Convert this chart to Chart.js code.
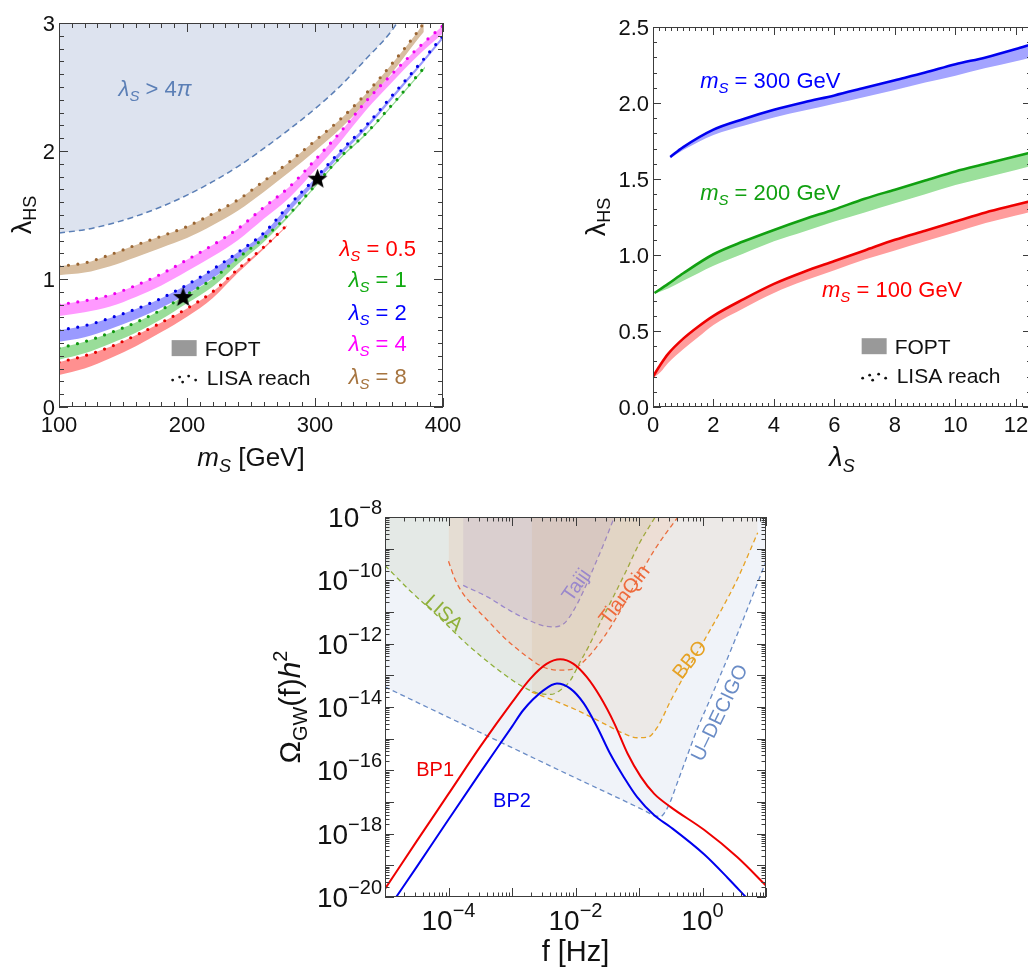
<!DOCTYPE html>
<html>
<head>
<meta charset="utf-8">
<script src="https://cdn.jsdelivr.net/npm/chart.js@4.4.0/dist/chart.umd.min.js"></script>
<style>
  html, body { margin: 0; padding: 0; background: #fff; overflow: hidden; width: 1028px; height: 972px; }
  canvas { position: absolute; }
  #scanMass { left: 0; top: 0; }
  #scanSelf { left: 560px; top: 0; }
  #spectrum { left: 250px; top: 490px; }
</style>
</head>
<body>
<canvas id="scanMass" width="500" height="490"></canvas>
<canvas id="scanSelf" width="500" height="490"></canvas>
<canvas id="spectrum" width="560" height="482"></canvas>
<script>
// ---------- Panel (a): lambda_HS versus m_S ----------
const massTicks = [100, 200, 300, 400];
const couplingTicksA = [0, 1, 2, 3];

const boundMass = [100, 120, 140, 160, 180, 200, 220, 240, 260, 280, 300, 320, 340, 360, 364];
const boundCoupling = [1.36, 1.385, 1.43, 1.49, 1.565, 1.655, 1.76, 1.88, 2.02, 2.17, 2.33, 2.51, 2.72, 2.94, 3.0];

const massLam05 = [100, 120, 140, 160, 180, 200, 220, 240, 260, 278];
const upperLam05 = [0.35, 0.40, 0.47, 0.56, 0.66, 0.77, 0.90, 1.08, 1.25, 1.42];
const lowerLam05 = [0.25, 0.30, 0.38, 0.475, 0.585, 0.705, 0.85, 1.05, 1.235, 1.41];

const massLam1 = [100, 120, 140, 160, 180, 200, 220, 240, 260, 280, 300, 320, 340, 360, 380, 386];
const upperLam1 = [0.46, 0.51, 0.58, 0.66, 0.76, 0.88, 1.00, 1.165, 1.32, 1.51, 1.73, 1.955, 2.14, 2.36, 2.59, 2.66];
const lowerLam1 = [0.37, 0.42, 0.495, 0.58, 0.685, 0.81, 0.94, 1.12, 1.29, 1.49, 1.715, 1.94, 2.125, 2.345, 2.575, 2.645];

const massLam2 = [100, 120, 140, 160, 180, 200, 220, 240, 260, 280, 300, 320, 340, 360, 380, 400];
const upperLam2 = [0.60, 0.635, 0.695, 0.765, 0.85, 0.955, 1.075, 1.21, 1.36, 1.58, 1.785, 2.0, 2.2, 2.43, 2.66, 2.90];
const lowerLam2 = [0.51, 0.545, 0.61, 0.685, 0.775, 0.88, 1.005, 1.145, 1.30, 1.53, 1.745, 1.965, 2.17, 2.40, 2.635, 2.875];

const massLam4 = [100, 120, 140, 160, 180, 200, 220, 240, 260, 280, 300, 320, 340, 360, 380, 400];
const upperLam4 = [0.80, 0.83, 0.875, 0.95, 1.04, 1.15, 1.265, 1.395, 1.56, 1.72, 1.93, 2.15, 2.39, 2.60, 2.80, 2.98];
const lowerLam4 = [0.71, 0.74, 0.785, 0.86, 0.95, 1.06, 1.175, 1.305, 1.47, 1.635, 1.85, 2.075, 2.32, 2.535, 2.74, 2.92];

const massLam8 = [100, 120, 140, 160, 180, 200, 220, 240, 260, 280, 300, 320, 340, 360, 380, 385];
const upperLam8 = [1.10, 1.125, 1.19, 1.265, 1.335, 1.41, 1.51, 1.62, 1.765, 1.915, 2.08, 2.25, 2.45, 2.68, 2.93, 3.0];
const lowerLam8 = [1.03, 1.05, 1.10, 1.17, 1.245, 1.32, 1.42, 1.535, 1.68, 1.835, 2.0, 2.175, 2.38, 2.61, 2.87, 2.93];

const benchMass = [197, 302];
const benchCoupling = [0.855, 1.78];

// ---------- Panel (b): lambda_HS versus lambda_S ----------
const selfTicks = [0, 2, 4, 6, 8, 10, 12];
const couplingTicksB = [0, 0.5, 1.0, 1.5, 2.0, 2.5];

const lamS100 = [0, 0.25, 0.5, 1, 1.5, 2, 3, 4, 5, 6, 7, 8, 9, 10, 11, 12, 12.5];
const upper100 = [0.20, 0.28, 0.35, 0.45, 0.53, 0.60, 0.71, 0.81, 0.89, 0.96, 1.03, 1.10, 1.16, 1.22, 1.28, 1.33, 1.355];
const lower100 = [0.19, 0.23, 0.29, 0.38, 0.46, 0.54, 0.65, 0.75, 0.83, 0.90, 0.97, 1.03, 1.09, 1.15, 1.21, 1.26, 1.285];

const lamS200 = [0.05, 0.5, 1, 2, 3, 4, 5, 6, 7, 8, 9, 10, 11, 12, 12.5];
const upper200 = [0.75, 0.81, 0.88, 1.005, 1.09, 1.165, 1.235, 1.30, 1.37, 1.43, 1.49, 1.55, 1.60, 1.65, 1.675];
const lower200 = [0.745, 0.78, 0.83, 0.93, 1.01, 1.09, 1.155, 1.22, 1.28, 1.34, 1.40, 1.46, 1.51, 1.56, 1.585];

const lamS300 = [0.57, 1, 2, 3, 4, 5, 6, 7, 8, 9, 10, 11, 12, 12.5];
const upper300 = [1.645, 1.71, 1.825, 1.895, 1.955, 2.005, 2.05, 2.10, 2.15, 2.20, 2.255, 2.30, 2.355, 2.385];
const lower300 = [1.635, 1.69, 1.79, 1.85, 1.905, 1.95, 1.995, 2.04, 2.085, 2.135, 2.18, 2.23, 2.275, 2.30];

// ---------- Panel (c): gravitational-wave spectra and detector reach ----------
const freqTickExps = [-4, -2, 0];
const omegaTickExps = [-8, -10, -12, -14, -16, -18, -20];

const bp1Freq = [1e-5, 3.16e-5, 1e-4, 3.16e-4, 1e-3, 1.95e-3, 3.5e-3, 5.75e-3, 9.3e-3, 1.5e-2, 2.45e-2, 4.1e-2, 6.6e-2, 0.107, 0.174, 0.316, 1.07, 3.55, 10];
const bp1Omega = [1.8e-20, 5.8e-19, 1.8e-17, 5.6e-16, 1.4e-14, 7.9e-14, 2.3e-13, 3.2e-13, 2.3e-13, 8.9e-14, 2.1e-14, 3.0e-15, 3.4e-16, 6.2e-17, 1.8e-17, 6.9e-18, 1.3e-18, 1.8e-19, 2.3e-20];

const bp2Freq = [1.5e-5, 3.16e-5, 1e-4, 3.16e-4, 1e-3, 1.5e-3, 3.16e-3, 5.1e-3, 8.3e-3, 1.35e-2, 2.2e-2, 3.5e-2, 5.75e-2, 9.3e-2, 0.174, 0.316, 1.07, 2.5, 4.8];
const bp2Omega = [1e-20, 8.9e-20, 2.8e-18, 8.5e-17, 2.4e-15, 7.9e-15, 3.4e-14, 5.5e-14, 3.8e-14, 1.3e-14, 2.3e-15, 3.4e-16, 6.2e-17, 1.45e-17, 3.8e-18, 1.6e-18, 2.2e-19, 4e-20, 1e-20];

const lisaFreq = [1e-5, 2.45e-5, 6.6e-5, 2.2e-4, 7.4e-4, 1.5e-3, 2.45e-3, 4.1e-3, 5.75e-3, 8.3e-3, 1.2e-2, 1.6e-2, 2.5e-2, 4e-2, 6.3e-2, 0.1, 0.18];
const lisaOmega = [2.95e-10, 4.8e-11, 7.8e-12, 7.8e-13, 1.1e-13, 4.3e-14, 2.8e-14, 2.5e-14, 3.4e-14, 6.9e-14, 2.8e-13, 7.9e-13, 5e-12, 3.2e-11, 2e-10, 1.4e-9, 1e-8];

const tianqinFreq = [1e-4, 1.26e-4, 1.66e-4, 2.2e-4, 4.1e-4, 7.4e-4, 1.5e-3, 3.16e-3, 5.75e-3, 9.3e-3, 1.5e-2, 2.8e-2, 5.1e-2, 9.3e-2, 0.174, 0.41];
const tianqinOmega = [4e-10, 1.1e-10, 4e-11, 2e-11, 5.5e-12, 1.6e-12, 4.8e-13, 1.8e-13, 1.45e-13, 1.6e-13, 3.4e-13, 1.6e-12, 1.1e-11, 1e-10, 8.9e-10, 1e-8];

const taijiFreq = [1.7e-4, 4.1e-4, 9.3e-4, 1.95e-3, 3.5e-3, 4.6e-3, 6.6e-3, 9.3e-3, 1.35e-2, 1.95e-2, 2.8e-2, 4.1e-2];
const taijiOmega = [6.9e-11, 3e-11, 1.1e-11, 5.2e-12, 3.5e-12, 3.4e-12, 4.3e-12, 1.1e-11, 4.8e-11, 2.6e-10, 1.45e-9, 1e-8];

const bboFreq = [2.05e-3, 4.6e-3, 1.07e-2, 2.8e-2, 5.75e-2, 9.3e-2, 0.135, 0.195, 0.316, 0.575, 1.07, 1.95, 3.55, 7.4];
const bboOmega = [2.95e-14, 1.6e-14, 7.8e-15, 3e-15, 1.45e-15, 1.07e-15, 1.1e-15, 2.3e-15, 1.6e-14, 1.45e-13, 1.3e-12, 1.1e-11, 1.1e-10, 3.2e-9];

const decigoFreq = [1e-5, 1e-4, 1e-3, 1e-2, 0.1, 0.135, 0.174, 0.22, 0.26, 0.316, 0.4, 0.56, 0.79, 1.5, 2.8, 5.1, 10];
const decigoOmega = [4.3e-14, 4.7e-15, 5.2e-16, 5.75e-17, 6.5e-18, 4.8e-18, 3.7e-18, 3.5e-18, 5e-18, 1.1e-17, 4e-17, 2.5e-16, 1.6e-15, 3.2e-14, 6.3e-13, 1.26e-11, 4e-10];

// ---------- helpers ----------
const FAMILY = '"Liberation Sans", Arial, sans-serif';
const font = (size, italic) => `${italic ? 'italic ' : ''}${size}px ${FAMILY}`;
const pts = (xs, ys) => xs.map((x, i) => ({ x, y: ys[i] }));
// draw datasets in array order (first one at the bottom, last one on top)
const stacked = list => list.map((d, i) => Object.assign(d, { order: list.length - i }));

function richWidth(ctx, parts) {
  let w = 0;
  for (const p of parts) { ctx.font = font(p.size, p.it); w += ctx.measureText(p.t).width; }
  return w;
}
function drawRich(ctx, parts, x, y, align, color) {
  const w = richWidth(ctx, parts);
  let cx = align === 'center' ? x - w / 2 : align === 'right' ? x - w : x;
  ctx.save();
  ctx.textAlign = 'left';
  ctx.textBaseline = 'alphabetic';
  ctx.fillStyle = color || '#111';
  for (const p of parts) {
    ctx.font = font(p.size, p.it);
    ctx.fillText(p.t, cx, y + (p.dy || 0));
    cx += ctx.measureText(p.t).width;
  }
  ctx.restore();
}
function drawRichRotated(ctx, parts, x, y, angleDeg, color) {
  ctx.save();
  ctx.translate(x, y);
  ctx.rotate(angleDeg * Math.PI / 180);
  drawRich(ctx, parts, 0, 0, 'center', color);
  ctx.restore();
}
function range(a, b, step) {
  const out = [];
  const n = Math.round((b - a) / step);
  for (let i = 0; i <= n; i++) out.push(+(a + i * step).toFixed(6));
  return out;
}
function logMinor(e0, e1) {
  const out = [];
  for (let e = e0; e < e1; e++) for (let m = 2; m <= 9; m++) out.push(m * Math.pow(10, e));
  return out;
}
function logMajor(e0, e1) {
  const out = [];
  for (let e = e0; e <= e1; e++) out.push(Math.pow(10, e));
  return out;
}

// Frame with inward ticks on all four sides, plus custom labels
function framePlugin(cfg) {
  return {
    id: 'frameTicks',
    afterDraw(chart) {
      const ctx = chart.ctx, a = chart.chartArea;
      const sx = chart.scales.x, sy = chart.scales.y;
      ctx.save();
      ctx.strokeStyle = '#3c3c3c';
      ctx.lineWidth = 1;
      ctx.beginPath();
      const xt = (vals, len) => vals.forEach(v => {
        const p = Math.round(sx.getPixelForValue(v)) + 0.5;
        if (p < a.left - 0.5 || p > a.right + 0.5) return;
        ctx.moveTo(p, a.bottom); ctx.lineTo(p, a.bottom - len);
        ctx.moveTo(p, a.top); ctx.lineTo(p, a.top + len);
      });
      const yt = (vals, len) => vals.forEach(v => {
        const p = Math.round(sy.getPixelForValue(v)) + 0.5;
        if (p < a.top - 0.5 || p > a.bottom + 0.5) return;
        ctx.moveTo(a.left, p); ctx.lineTo(a.left + len, p);
        ctx.moveTo(a.right, p); ctx.lineTo(a.right - len, p);
      });
      xt(cfg.xMinor, cfg.minorLen); xt(cfg.xMajor, cfg.majorLen);
      yt(cfg.yMinor, cfg.minorLen); yt(cfg.yMajor, cfg.majorLen);
      ctx.stroke();
      ctx.strokeRect(a.left + 0.5, a.top + 0.5, a.right - a.left - 1, a.bottom - a.top - 1);
      ctx.restore();
      cfg.labels(chart, ctx, a, sx, sy);
    }
  };
}

function fopLegend(ctx, x, y) {
  // grey swatch for the transition region
  ctx.save();
  ctx.fillStyle = '#999999';
  ctx.fillRect(x, y - 8, 25, 16);
  ctx.fillStyle = '#111';
  ctx.font = font(21);
  ctx.textBaseline = 'alphabetic';
  ctx.fillText('FOPT', x + 33, y + 8);
  // dotted symbol for LISA reach
  const dots = [[1, 32], [8, 29], [11, 34], [17, 28], [24, 32]];
  dots.forEach(([dx, dy]) => { ctx.beginPath(); ctx.arc(x + dx, y + dy, 1.4, 0, Math.PI * 2); ctx.fill(); });
  ctx.fillText('LISA reach', x + 35, y + 37);
  ctx.restore();
}

function starImage(size, color) {
  const c = document.createElement('canvas');
  c.width = c.height = size;
  const g = c.getContext('2d');
  const R = size / 2, r = R * 0.42;
  g.fillStyle = color;
  g.beginPath();
  for (let i = 0; i < 10; i++) {
    const ang = -Math.PI / 2 + i * Math.PI / 5;
    const rad = i % 2 ? r : R;
    g.lineTo(R + rad * Math.cos(ang), R + rad * Math.sin(ang));
  }
  g.closePath();
  g.fill();
  return c;
}

const baseOptions = (padding, scales) => ({
  responsive: false,
  animation: false,
  devicePixelRatio: 1,
  layout: { padding },
  plugins: { legend: { display: false }, tooltip: { enabled: false } },
  elements: { point: { radius: 0 } },
  scales
});

// band helpers: lower edge (no stroke) followed by upper edge filled down to it
function band(xs, lo, hi, fillColor, edge) {
  return [
    { data: pts(xs, lo), borderWidth: 0, fill: false, cubicInterpolationMode: 'monotone', clip: 0 },
    Object.assign({ data: pts(xs, hi), fill: '-1', backgroundColor: fillColor, cubicInterpolationMode: 'monotone', clip: 0 }, edge)
  ];
}
const dottedEdge = color => ({ borderColor: color, borderWidth: 3.2, borderDash: [0, 9.5], borderCapStyle: 'round' });
const solidEdge = color => ({ borderColor: color, borderWidth: 2.6 });

// ---------- Chart (a) ----------
new Chart(document.getElementById('scanMass'), {
  type: 'line',
  data: {
    datasets: stacked([
      { data: pts(boundMass, boundCoupling), fill: 'end', backgroundColor: '#dde3ef', borderColor: '#5b7fb6', borderWidth: 1.5, borderDash: [6, 4], cubicInterpolationMode: 'monotone', clip: 0 },
      ...band(massLam8, lowerLam8, upperLam8, '#d8bea0', dottedEdge('#9a6532')),
      ...band(massLam4, lowerLam4, upperLam4, '#ff99ff', dottedEdge('#ee00ee')),
      ...band(massLam2, lowerLam2, upperLam2, '#9a9aff', dottedEdge('#0000e6')),
      ...band(massLam1, lowerLam1, upperLam1, '#99dd99', dottedEdge('#119911')),
      ...band(massLam05, lowerLam05, upperLam05, '#ff9090', dottedEdge('#e60000')),
      { data: pts(benchMass, benchCoupling), showLine: false, pointStyle: starImage(21, '#000'), pointRadius: 10, clip: false }
    ])
  },
  options: baseOptions({ left: 59, top: 23, right: 57, bottom: 83 }, {
    x: { type: 'linear', min: 100, max: 400, display: false },
    y: { type: 'linear', min: 0, max: 3, display: false }
  }),
  plugins: [framePlugin({
    xMajor: massTicks, xMinor: range(100, 400, 10),
    yMajor: couplingTicksA, yMinor: range(0, 3, 0.1),
    majorLen: 9, minorLen: 5,
    labels(chart, ctx, a, sx, sy) {
      ctx.save();
      ctx.fillStyle = '#111';
      ctx.font = font(22);
      ctx.textBaseline = 'alphabetic';
      ctx.textAlign = 'center';
      massTicks.forEach(v => ctx.fillText(String(v), sx.getPixelForValue(v), a.bottom + 25));
      ctx.textAlign = 'right';
      couplingTicksA.forEach(v => ctx.fillText(String(v), a.left - 4, sy.getPixelForValue(v) + 8));
      ctx.restore();
      drawRich(ctx, [{ t: 'm', it: 1, size: 26 }, { t: 'S', it: 1, size: 18, dy: 6 }, { t: ' [GeV]', size: 26 }], (a.left + a.right) / 2, 466, 'center');
      drawRichRotated(ctx, [{ t: 'λ', size: 27 }, { t: 'HS', size: 18, dy: 5 }], 31, (a.top + a.bottom) / 2, -90);
      drawRich(ctx, [{ t: 'λ', it: 1, size: 22 }, { t: 'S', it: 1, size: 15, dy: 5 }, { t: ' > 4', size: 22 }, { t: 'π', it: 1, size: 22 }],
        sx.getPixelForValue(175), sy.getPixelForValue(2.49) + 8, 'center', '#5b7fb6');
      const legend = [['0.5', '#ff0000', 1.24], ['1', '#11aa11', 1.0], ['2', '#0000ff', 0.742], ['4', '#ff00ff', 0.498], ['8', '#a6743f', 0.24]];
      legend.forEach(([v, c, yv]) => drawRich(ctx, [{ t: 'λ', it: 1, size: 22 }, { t: 'S', it: 1, size: 15, dy: 5 }, { t: ' = ' + v, size: 22 }],
        sx.getPixelForValue(349), sy.getPixelForValue(yv) + 8, 'center', c));
      fopLegend(ctx, sx.getPixelForValue(188), sy.getPixelForValue(0.46));
    }
  })]
});

// ---------- Chart (b) ----------
new Chart(document.getElementById('scanSelf'), {
  type: 'line',
  data: {
    datasets: stacked([
      ...band(lamS100, lower100, upper100, '#ff9c9c', solidEdge('#ee0000')),
      ...band(lamS200, lower200, upper200, '#9be09b', solidEdge('#11a011')),
      ...band(lamS300, lower300, upper300, '#a4a4ff', solidEdge('#0000ee'))
    ])
  },
  options: baseOptions({ left: 93, top: 27, right: 29, bottom: 83 }, {
    x: { type: 'linear', min: 0, max: 12.5, display: false },
    y: { type: 'linear', min: 0, max: 2.5, display: false }
  }),
  plugins: [framePlugin({
    xMajor: selfTicks, xMinor: range(0, 12.4, 0.2),
    yMajor: couplingTicksB, yMinor: range(0, 2.5, 0.1),
    majorLen: 8, minorLen: 4,
    labels(chart, ctx, a, sx, sy) {
      ctx.save();
      ctx.fillStyle = '#111';
      ctx.font = font(22);
      ctx.textBaseline = 'alphabetic';
      ctx.textAlign = 'center';
      selfTicks.forEach(v => ctx.fillText(String(v), sx.getPixelForValue(v), a.bottom + 25));
      ctx.textAlign = 'right';
      couplingTicksB.forEach(v => ctx.fillText(v.toFixed(1), a.left - 4, sy.getPixelForValue(v) + 8));
      ctx.restore();
      drawRich(ctx, [{ t: 'λ', it: 1, size: 27 }, { t: 'S', it: 1, size: 18, dy: 6 }], 282, 466, 'center');
      drawRichRotated(ctx, [{ t: 'λ', size: 27 }, { t: 'HS', size: 18, dy: 5 }], 45, 217, -90);
      const mLabel = (v) => [{ t: 'm', it: 1, size: 22 }, { t: 'S', it: 1, size: 15, dy: 5 }, { t: ' = ' + v + ' GeV', size: 22 }];
      drawRich(ctx, mLabel(300), sx.getPixelForValue(1.56), sy.getPixelForValue(2.15) + 8, 'left', '#0000ff');
      drawRich(ctx, mLabel(200), sx.getPixelForValue(1.56), sy.getPixelForValue(1.414) + 8, 'left', '#11a011');
      drawRich(ctx, mLabel(100), sx.getPixelForValue(5.59), sy.getPixelForValue(0.779) + 8, 'left', '#ff0000');
      fopLegend(ctx, sx.getPixelForValue(6.9), sy.getPixelForValue(0.4));
    }
  })]
});

// ---------- Chart (c) ----------
const detector = (xs, ys, line, fillColor) => ({
  data: pts(xs, ys), fill: 'end', backgroundColor: fillColor, borderColor: line, borderWidth: 1.3,
  borderDash: [5, 3.5], cubicInterpolationMode: 'monotone', clip: 0
});
const spectrumLine = (xs, ys, color) => ({
  data: pts(xs, ys), fill: false, borderColor: color, borderWidth: 2, cubicInterpolationMode: 'monotone', clip: 0
});

new Chart(document.getElementById('spectrum'), {
  type: 'line',
  data: {
    datasets: stacked([
      detector(decigoFreq, decigoOmega, '#6a8cc6', 'rgba(106,140,198,0.10)'),
      detector(lisaFreq, lisaOmega, '#8fb03a', 'rgba(140,160,90,0.12)'),
      detector(tianqinFreq, tianqinOmega, '#ee6a3c', 'rgba(240,130,70,0.12)'),
      detector(taijiFreq, taijiOmega, '#9a88cc', 'rgba(140,110,170,0.12)'),
      detector(bboFreq, bboOmega, '#e6a224', 'rgba(210,150,80,0.10)'),
      spectrumLine(bp1Freq, bp1Omega, '#ee0000'),
      spectrumLine(bp2Freq, bp2Omega, '#0000ee')
    ])
  },
  options: baseOptions({ left: 135, top: 27, right: 44, bottom: 75 }, {
    x: { type: 'logarithmic', min: 1e-5, max: 10, display: false },
    y: { type: 'logarithmic', min: 1e-20, max: 1e-8, display: false }
  }),
  plugins: [framePlugin({
    xMajor: logMajor(-5, 1), xMinor: logMinor(-5, 1),
    yMajor: logMajor(-20, -8), yMinor: logMinor(-20, -8),
    majorLen: 9, minorLen: 4.5,
    labels(chart, ctx, a, sx, sy) {
      const power = e => [{ t: '10', size: 28 }, { t: e < 0 ? '\u2212' + (-e) : String(e), size: 20, dy: -13 }];
      freqTickExps.forEach(e => drawRich(ctx, power(e), sx.getPixelForValue(Math.pow(10, e)), a.bottom + 33, 'center'));
      omegaTickExps.forEach(e => drawRich(ctx, power(e), a.left - 3, sy.getPixelForValue(Math.pow(10, e)) + 10, 'right'));
      drawRich(ctx, [{ t: 'f [Hz]', size: 29 }], (a.left + a.right) / 2, 471, 'center');
      drawRichRotated(ctx, [{ t: 'Ω', size: 30 }, { t: 'GW', size: 20, dy: 7 }, { t: '(f)', size: 30 }, { t: 'h', it: 1, size: 30 }, { t: '2', size: 20, dy: -13 }],
        50, (a.top + a.bottom) / 2, -90);
      const at = (lf, lo) => [sx.getPixelForValue(Math.pow(10, lf)), sy.getPixelForValue(Math.pow(10, lo))];
      const tag = (text, lf, lo, ang, color) => {
        const [px, py] = at(lf, lo);
        ctx.save();
        ctx.translate(px, py);
        ctx.rotate(ang * Math.PI / 180);
        ctx.font = font(20);
        ctx.fillStyle = color;
        ctx.textAlign = 'center';
        ctx.textBaseline = 'middle';
        ctx.fillText(text, 0, 0);
        ctx.restore();
      };
      tag('LISA', -4.08, -11.05, 42, '#8fb03a');
      tag('Taiji', -1.98, -10.16, -55, '#9a88cc');
      tag('TianQin', -1.22, -10.47, -52, '#ee6a3c');
      tag('BBO', -0.19, -12.52, -52, '#e6a224');
      tag('U\u2013DECIGO', 0.28, -14.19, -64, '#6a8cc6');
      tag('BP1', -4.21, -16.0, 0, '#ee0000');
      tag('BP2', -3.0, -16.98, 0, '#0000ee');
    }
  })]
});
</script>
</body>
</html>
